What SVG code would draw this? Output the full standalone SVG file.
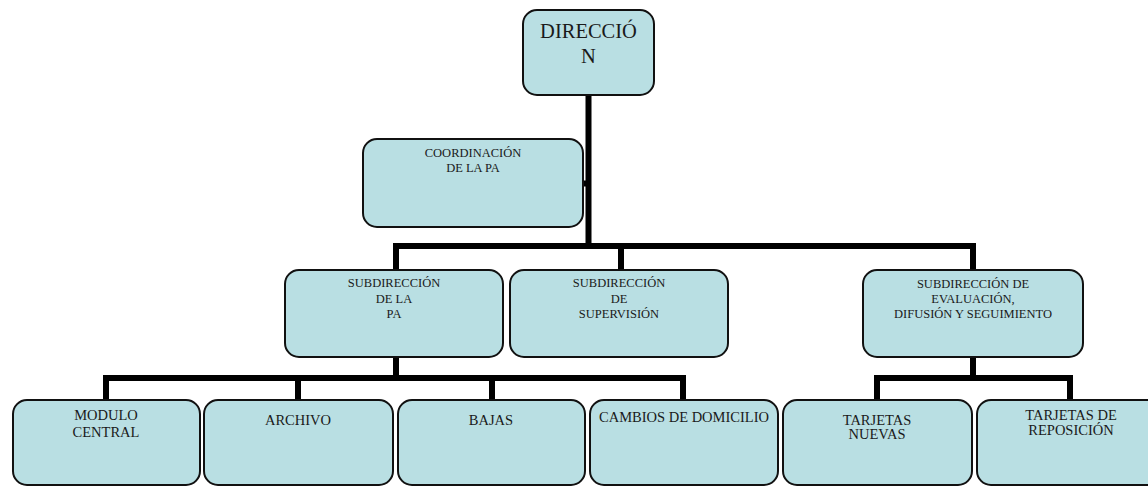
<svg xmlns="http://www.w3.org/2000/svg" width="1148" height="487" viewBox="0 0 1148 487">
<style>
.box{fill:#B9DFE3;stroke:#111;stroke-width:2}
.t{fill:#1a1a1a;text-anchor:middle}
.s13{font-size:12.5px}
.s15{font-size:14.5px}
.big{font-size:20.5px}
.c{stroke:#000;stroke-width:6;fill:none;stroke-linecap:butt}
</style>
<g id="connectors">
<path class="c" d="M588.5 95 V246"/>
<path class="c" d="M583 183.5 H588"/>
<path class="c" d="M396 270 V246 H973 V270"/>
<path class="c" d="M621 246 V270"/>
<path class="c" d="M396 357 V378"/>
<path class="c" d="M106 400 V378 H683 V400"/>
<path class="c" d="M298 378 V400"/>
<path class="c" d="M492 378 V400"/>
<path class="c" d="M973 357 V378"/>
<path class="c" d="M877 400 V378 H1070 V400"/>
</g>
<g font-family="'Liberation Serif', 'Times New Roman', 'DejaVu Serif', serif">
<g id="direccion">
<rect class="box" x="523" y="10" width="131" height="85" rx="14"/>
<text class="t big" x="588.5" y="38">DIRECCIÓ</text>
<text class="t big" x="588.5" y="63">N</text>
</g>
<g id="coordinacion">
<rect class="box" x="363" y="139" width="220" height="88" rx="14"/>
<text class="t s13" x="473" y="157">COORDINACIÓN</text>
<text class="t s13" x="473" y="172">DE LA PA</text>
</g>
<g id="subdir-pa">
<rect class="box" x="285" y="270" width="218" height="87" rx="14"/>
<text class="t s13" x="394" y="287">SUBDIRECCIÓN</text>
<text class="t s13" x="394" y="303">DE LA</text>
<text class="t s13" x="394" y="318">PA</text>
</g>
<g id="subdir-supervision">
<rect class="box" x="510" y="270" width="218" height="87" rx="14"/>
<text class="t s13" x="619" y="287">SUBDIRECCIÓN</text>
<text class="t s13" x="619" y="303">DE</text>
<text class="t s13" x="619" y="318">SUPERVISIÓN</text>
</g>
<g id="subdir-evaluacion">
<rect class="box" x="863" y="270" width="220" height="87" rx="14"/>
<text class="t s13" x="973" y="288">SUBDIRECCIÓN DE</text>
<text class="t s13" x="973" y="303">EVALUACIÓN,</text>
<text class="t s13" x="973" y="318">DIFUSIÓN Y SEGUIMIENTO</text>
</g>
<g id="modulo-central">
<rect class="box" x="13" y="400" width="187" height="85" rx="14"/>
<text class="t s15" x="106" y="420">MODULO</text>
<text class="t s15" x="106" y="437">CENTRAL</text>
</g>
<g id="archivo">
<rect class="box" x="204" y="400" width="189" height="85" rx="14"/>
<text class="t s15" x="298" y="425">ARCHIVO</text>
</g>
<g id="bajas">
<rect class="box" x="398" y="400" width="187" height="85" rx="14"/>
<text class="t s15" x="491" y="425">BAJAS</text>
</g>
<g id="cambios">
<rect class="box" x="590" y="400" width="188" height="85" rx="14"/>
<text class="t s15" x="684" y="422">CAMBIOS DE DOMICILIO</text>
</g>
<g id="tarjetas-nuevas">
<rect class="box" x="783" y="400" width="189" height="85" rx="14"/>
<text class="t s15" x="877" y="425">TARJETAS</text>
<text class="t s15" x="877" y="439">NUEVAS</text>
</g>
<g id="tarjetas-reposicion">
<rect class="box" x="977" y="400" width="188" height="85" rx="14"/>
<text class="t s15" x="1071" y="420">TARJETAS DE</text>
<text class="t s15" x="1071" y="435">REPOSICIÓN</text>
</g>
</g>
</svg>
